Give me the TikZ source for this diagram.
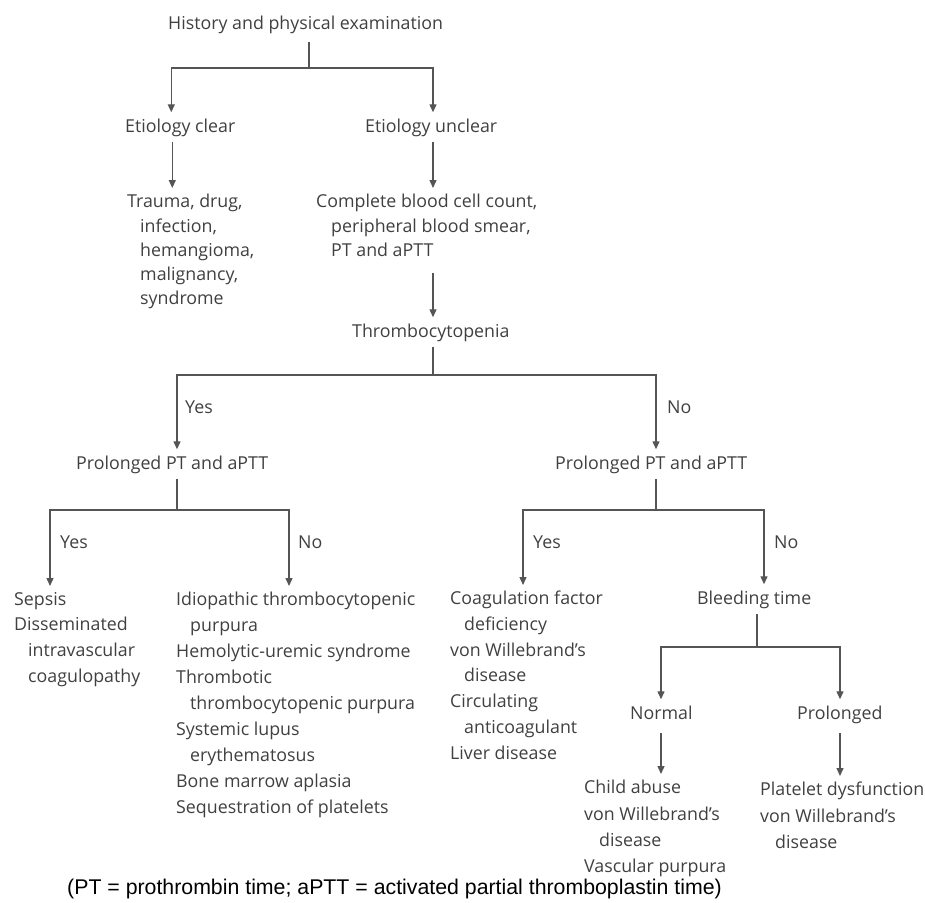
\documentclass[tikz,border=0pt]{standalone}
\usepackage{fontspec}
\setmainfont{Open Sans}
\newfontfamily\capfont{Liberation Sans}
\usetikzlibrary{arrows.meta}
\definecolor{tgray}{HTML}{404040}
\definecolor{lgray}{HTML}{555555}
\begin{document}
\begin{tikzpicture}[x=1pt,y=-1pt,
  txt/.style={inner xsep=0pt, inner ysep=6pt, text=tgray, font=\fontsize{17.8}{25.7}\selectfont},
  lst/.style={txt, align=left, anchor=north west},
  lab/.style={txt, anchor=base west},
  ln/.style={draw=lgray, line width=1.3pt},
  arr/.style={ln, -{Triangle[width=7pt,length=8pt]}}]
\useasboundingbox (0,0) rectangle (925,902);
% column coordinates
\coordinate (xa) at (50,0);
\coordinate (xb) at (289,0);
\coordinate (xc) at (523,0);
\coordinate (xd) at (764,0);
\coordinate (xe) at (661,0);
\coordinate (xf) at (840,0);
\coordinate (j1) at (309,68);
\coordinate (j2) at (433,375);
\coordinate (j3) at (177,510);
\coordinate (j4) at (656,510);
\coordinate (j5) at (757,647);
% nodes
\node[lab] (hist) at (168,29) {History and physical examination};
\node[lab] (ec) at (125,132) {Etiology clear};
\node[lab] (eu) at (365,132) {Etiology unclear};
\node[lst, font=\fontsize{17.8}{24.3}\selectfont] (tr) at (127,188) {Trauma, drug,\\\hspace*{13pt}infection,\\\hspace*{13pt}hemangioma,\\\hspace*{13pt}malignancy,\\\hspace*{13pt}syndrome};
\node[lst, font=\fontsize{17.8}{24.3}\selectfont] (cb) at (316,188) {Complete blood cell count,\\\hspace*{15pt}peripheral blood smear,\\\hspace*{15pt}PT and aPTT};
\node[lab] (th) at (352,337) {Thrombocytopenia};
\node[lab] (y1) at (185,413) {Yes};
\node[lab] (n1) at (667,413) {No};
\node[lab] (pl) at (76,469) {Prolonged PT and aPTT};
\node[lab] (pr) at (555,469) {Prolonged PT and aPTT};
\node[lab] (y2) at (60,548) {Yes};
\node[lab] (n2) at (298,548) {No};
\node[lab] (y3) at (533,548) {Yes};
\node[lab] (n3) at (774,548) {No};
\node[lst] (sep) at (14,586) {Sepsis\\Disseminated\\\hspace*{14pt}intravascular\\\hspace*{14pt}coagulopathy};
\node[lst, font=\fontsize{17.8}{26}\selectfont] (itp) at (176,586) {Idiopathic thrombocytopenic\\\hspace*{14pt}purpura\\Hemolytic-uremic syndrome\\Thrombotic\\\hspace*{14pt}thrombocytopenic purpura\\Systemic lupus\\\hspace*{14pt}erythematosus\\Bone marrow aplasia\\Sequestration of platelets};
\node[lst] (cf) at (450,585) {Coagulation factor\\\hspace*{14pt}deficiency\\von Willebrand's\\\hspace*{14pt}disease\\Circulating\\\hspace*{14pt}anticoagulant\\Liver disease};
\node[lab] (bt) at (697,604) {Bleeding time};
\node[lab] (nm) at (630,719) {Normal};
\node[lab] (pg) at (797,719) {Prolonged};
\node[lst, font=\fontsize{17.8}{26.3}\selectfont] (ca) at (584,774) {Child abuse\\von Willebrand's\\\hspace*{15pt}disease\\Vascular purpura};
\node[lst, font=\fontsize{17.8}{26.3}\selectfont] (pd) at (760,776) {Platelet dysfunction\\von Willebrand's\\\hspace*{15pt}disease};
\node[anchor=base west, inner sep=0pt, font=\capfont\fontsize{21.3}{25}\selectfont] (cap) at (67,894) {(PT = prothrombin time; aPTT = activated partial thromboplastin time)};
% connectors
\draw[ln] (hist.south -| j1) ++(0,3) -- (j1);
\draw[arr] (j1) -| ([xshift=-9pt]ec.north);
\draw[arr] (j1) -| (eu.north -| j2);
\draw[arr] ([xshift=-8pt]ec.south) -- ([xshift=-8pt]ec.south |- tr.north);
\draw[arr] (eu.south -| j2) -- (cb.north -| j2);
\draw[arr] (cb.south -| j2) ++(0,10) -- (th.north -| j2);
\draw[ln] (th.south -| j2) -- (j2);
\draw[arr] (j2) -| (pl.north -| j3);
\draw[arr] (j2) -| (pr.north -| j4);
\draw[ln] (pl.south -| j3) -- (j3);
\draw[arr] (j3) -| (sep.north -| xa);
\draw[arr] (j3) -| (itp.north -| xb);
\draw[ln] (pr.south -| j4) -- (j4);
\draw[arr] (j4) -| (cf.north -| xc);
\draw[arr] (j4) -| (bt.north -| xd);
\draw[ln] (bt.south -| j5) -- (j5);
\draw[arr] (j5) -| (nm.north -| xe);
\draw[arr] (j5) -| (pg.north -| xf);
\draw[arr] (nm.south -| xe) ++(0,8) -- (ca.north -| xe);
\draw[arr] (pg.south -| xf) ++(0,4) -- (pd.north -| xf);
\end{tikzpicture}
\end{document}
